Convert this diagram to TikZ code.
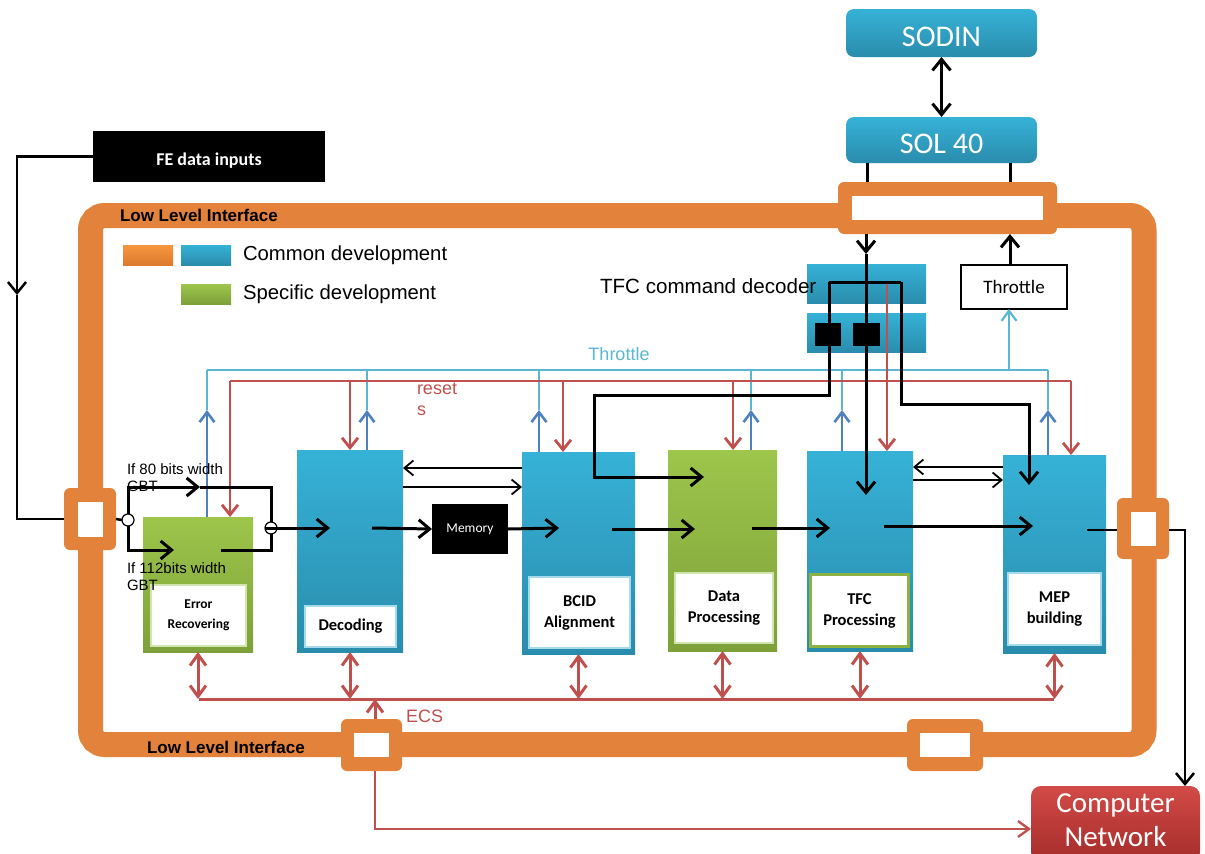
\documentclass[tikz,border=0pt]{standalone}
\usepackage{fontspec}
\setmainfont{Liberation Sans}
\newfontfamily\calib{Carlito}
\usetikzlibrary{arrows.meta}
\definecolor{org}{HTML}{E3823A}
\definecolor{orgT}{HTML}{F7963F}
\definecolor{orgB}{HTML}{DC7A2E}
\definecolor{rd}{HTML}{C0504D}
\definecolor{thl}{HTML}{5BB6D4}
\definecolor{thd}{HTML}{4F81BD}
\definecolor{bluT}{HTML}{36B2D7}
\definecolor{bluB}{HTML}{2A8CAC}
\definecolor{grnT}{HTML}{9DC64B}
\definecolor{grnB}{HTML}{7EA03A}
\definecolor{redT}{HTML}{D24B48}
\definecolor{redB}{HTML}{A52C2A}

\begin{document}
\begin{tikzpicture}[x=1pt,y=-1pt,
  every node/.style={inner sep=0pt,outer sep=0pt},
  bluebox/.style={top color=bluT,bottom color=bluB,draw=none},
  grnbox/.style={top color=grnT,bottom color=grnB,draw=none},
  lab/.style={fill=white,draw=white!55!bluT,line width=1.5pt,align=center,
    font=\calib\bfseries\fontsize{16.5}{21}\selectfont},
  ifc/.style={fill=org,rounded corners=6pt},
  hole/.style={fill=white},
  cbox/.style={top color=bluT,bottom color=bluB,rounded corners=8pt,text=white,
    text height=27pt,text depth=0pt,font=\calib\fontsize{30}{34}\selectfont},
  bl/.style={draw=black,line width=3pt},
  bl2/.style={draw=black,line width=2.5pt},
  bt/.style={draw=black,line width=1.4pt},
  rst/.style={draw=rd,line width=1.3pt},
  thrl/.style={draw=thl,line width=1.3pt},
  thrd/.style={draw=thd,line width=1.8pt},
  ecs/.style={draw=rd,line width=3pt},
  ecs2/.style={draw=rd,line width=2.4pt},
  Tb/.tip={Straight Barb[length=11pt,width=18pt]},
  Tk/.tip={Straight Barb[length=9pt,width=15pt,line width=1.8pt]},
  Tt/.tip={Straight Barb[length=10pt,width=15pt,line width=2.6pt]},
  Tr/.tip={Straight Barb[length=10pt,width=16pt,line width=2.8pt]},
  Tl/.tip={Straight Barb[length=10pt,width=15pt,line width=2.2pt]},
  Te/.tip={Straight Barb[length=11pt,width=16pt]},
]
\useasboundingbox (0,0) rectangle (1205,854);

% ---------- frame of the low level interface ----------
\draw[org,line width=25pt,rounded corners=14pt] (90.5,215.5) rectangle (1144,744.5);
\node[anchor=west,font=\bfseries\fontsize{17}{18}\selectfont] (lliT) at (120,215) {Low Level Interface};
\node[anchor=west,font=\bfseries\fontsize{17}{18}\selectfont] (lliB) at (147,747) {Low Level Interface};

% interface ports on the frame
\node[ifc,minimum width=219,minimum height=52] (ifcT) at (947.5,208) {};
\node[hole,minimum width=191,minimum height=24] (ifcTw) at (ifcT.center) {};
\node[ifc,minimum width=52,minimum height=62] (ifcL) at (90,519) {};
\node[hole,minimum width=25,minimum height=35] (ifcLw) at (ifcL.center) {};
\node[ifc,minimum width=52,minimum height=61] (ifcR) at (1143,528.5) {};
\node[hole,minimum width=25,minimum height=34] (ifcRw) at (ifcR.center) {};
\node[ifc,minimum width=61,minimum height=52] (ifcB) at (371.5,745) {};
\node[hole,minimum width=35,minimum height=24] (ifcBw) at (ifcB.center) {};
\node[ifc,minimum width=76,minimum height=52] (ifcN) at (945,745) {};
\node[hole,minimum width=50,minimum height=24] (ifcNw) at (ifcN.center) {};

% ---------- outside blocks ----------
\node[cbox,minimum width=191,minimum height=48] (sodin) at (941.5,33) {SODIN};
\node[cbox,minimum width=191,minimum height=46] (sol) at (941.5,140) {SOL 40};
\node[fill=black,minimum width=232,minimum height=51,text=white,
  text height=17.5pt,text depth=0pt,
  font=\calib\bfseries\fontsize{18}{20}\selectfont] (fe) at (209,156.5) {FE data inputs};
\node[top color=redT,bottom color=redB,rounded corners=10pt,minimum width=169,
  minimum height=76] (net) at (1115.5,824) {};
\node[text=white,align=center,font=\calib\fontsize{29}{34}\selectfont] (netT)
  at (1115.5,820) {Computer\\Network};

% ---------- legend ----------
\node[top color=orgT,bottom color=orgB,minimum width=50,minimum height=20] (lgO) at (148,255) {};
\node[bluebox,minimum width=50,minimum height=20] (lgB) at (206,255) {};
\node[grnbox,minimum width=50,minimum height=20] (lgG) at (206,294) {};
\node[anchor=west,font=\fontsize{20.3}{22}\selectfont] (lgT1) at (243,255) {Common development};
\node[anchor=west,font=\fontsize{20.3}{22}\selectfont] (lgT2) at (243,294) {Specific development};

% ---------- TFC command decoder and throttle ----------
\node[bluebox,minimum width=119,minimum height=39] (dc1) at (866.5,283.5) {};
\node[bluebox,minimum width=119,minimum height=39] (dc2) at (866.5,332.5) {};
\node[fill=black,minimum width=26,minimum height=23] (sq1) at (828,334) {};
\node[fill=black,minimum width=27,minimum height=23] (sq2) at (866.5,334) {};
\node[anchor=west,font=\fontsize{20.6}{22}\selectfont] (dcT) at (600,286) {TFC command decoder};
\node[draw=black,line width=2.5pt,fill=white,minimum width=106,minimum height=44,
  font=\calib\fontsize{19}{21}\selectfont] (thr) at (1014,287) {Throttle};

% ---------- processing blocks ----------
\node[grnbox,minimum width=110,minimum height=135] (err) at (198,584.5) {};
\node[lab,draw=white!55!grnT,minimum width=95,minimum height=61,
  font=\calib\bfseries\fontsize{13.5}{20}\selectfont] (errL) at (198.5,615.5) {Error\\Recovering};
\node[bluebox,minimum width=106,minimum height=202] (dec) at (350,551) {};
\node[lab,minimum width=91,minimum height=41] (decL) at (350.5,626.5) {Decoding};
\node[fill=black,minimum width=76,minimum height=50,text=white,
  font=\calib\fontsize{13.5}{15}\selectfont] (mem) at (470,529) {Memory};
\node[bluebox,minimum width=113,minimum height=202] (bcid) at (578.5,553) {};
\node[lab,minimum width=101,minimum height=71] (bcidL) at (579.5,612.5) {BCID\\Alignment};
\node[grnbox,minimum width=109,minimum height=201] (dp) at (722.5,550.5) {};
\node[lab,draw=white!55!grnT,minimum width=98,minimum height=70] (dpL) at (724,608) {Data\\Processing};
\node[bluebox,minimum width=106,minimum height=200] (tfc) at (860,551) {};
\node[lab,draw=grnT!90!black,line width=3pt,minimum width=98,minimum height=72] (tfcL) at (859.5,610.5) {TFC\\Processing};
\node[bluebox,minimum width=103,minimum height=198] (mep) at (1054.5,554) {};
\node[lab,minimum width=93,minimum height=72] (mepL) at (1054.5,609) {MEP\\building};

% ---------- throttle bus ----------
\coordinate (tipY) at (0,410);
\coordinate (thA) at (207,370);
\coordinate (thB) at (367,370);
\coordinate (thC) at (539,370);
\coordinate (thD) at (751,370);
\coordinate (thE) at (842,370);
\coordinate (thT) at (1009,370);
\coordinate (thF) at (1048,370);
\draw[thrl] (thA) -- (thF);
\foreach \b/\c in {err/thA,dec/thB,bcid/thC,dp/thD,tfc/thE,mep/thF}{
  \draw[thrl] (\c |- tipY) -- (\c);
  \draw[thrd,-{Tt}] (\b.north -| \c) -- (\c |- tipY);
}
\draw[thrl,-{Tl}] (thT) -- (thT |- thr.south);
\node[text=thl,font=\fontsize{18}{20}\selectfont] (thLab) at (619,354) {Throttle};

% ---------- reset bus ----------
\coordinate (rsA) at (230,381);
\coordinate (rsB) at (350,381);
\coordinate (rsC) at (563,381);
\coordinate (rsD) at (733,381);
\coordinate (rsF) at (1071,381);
\coordinate (rsTop) at (887,283);
\draw[rst] (rsA) -- (rsF);
\foreach \b/\c in {err/rsA,dec/rsB,bcid/rsC,dp/rsD,mep/rsF}{
  \draw[rst,-{Tr}] (\c) -- (\c |- \b.north);
}
\draw[rst,-{Tr}] (rsTop) -- (rsTop |- tfc.north);
\node[anchor=north west,align=left,text=rd,font=\fontsize{18}{21}\selectfont] (rsLab) at (417,383) {reset\\s};

% ---------- SODIN / SOL 40 links ----------
\draw[bl,{Tb}-{Tb}] (sodin.south) -- (sol.north);
\coordinate (sl1) at (867,0);
\coordinate (sl2) at (1010,0);
\draw[bl] (sol.south -| sl1) -- (ifcT.north -| sl1);
\draw[bl] (sol.south -| sl2) -- (ifcT.north -| sl2);

% ---------- TFC command distribution ----------
\coordinate (dA) at (866,254);
\coordinate (tfDn) at (0,495);
\draw[bl,-{Tb}] (ifcT.south -| dA) -- (dA);
\draw[bl,-{Tb}] (dA) -- (dA |- tfDn);
\coordinate (fkL) at (829,282);
\coordinate (fkR) at (901,282);
\draw[bl] (fkL) -- (fkR);
\coordinate (lb1) at (594,395);
\coordinate (lb2) at (704,477);
\draw[bl,-{Tb}] (fkL) |- (lb1) |- (lb2);
\coordinate (rb1) at (1029,404);
\coordinate (rb2) at (1029,485);
\draw[bl,-{Tb}] (fkR) |- (rb1) -- (rb2);
\coordinate (tu) at (1010,0);
\draw[bl,-{Tb}] (thr.north -| tu) -- (ifcT.south -| tu);

% ---------- data path ----------
\coordinate (feC) at (17,295);
\draw[bl2,-{Tb}] (fe.west) -| (feC);
\draw[bl2] (feC) |- (ifcL.west);
\node[circle,draw=black,fill=white,line width=1.2pt,minimum size=12] (c1) at (128,520) {};
\node[circle,draw=black,fill=white,line width=1.2pt,minimum size=12] (c2) at (271,528) {};
\draw[bl2] (ifcL.east) -- (c1.west);
\coordinate (upA) at (200,487);
\coordinate (loA) at (174,550);
\coordinate (loB) at (221,550);
\draw[bl,-{Tb}] (c1.north) |- (upA);
\draw[bl] (upA) -| (c2.north);
\draw[bl,-{Tb}] (c1.south) |- (loA);
\draw[bl] (loB) -| (c2.south);
\coordinate (decIn) at (330,528);
\draw[bl,-{Tb}] (c2.west) -- (decIn);
\node[anchor=north west,align=left,font=\fontsize{15}{17}\selectfont] (t80) at (127,464) {If 80 bits width\\GBT};
\node[anchor=north west,align=left,font=\fontsize{15}{17}\selectfont] (t112) at (127,563) {If 112bits width\\GBT};

\coordinate (decOut) at (372,528);
\draw[bl,-{Tb}] (decOut) -- (mem.west);
\coordinate (bcIn) at (559,528);
\draw[bl,-{Tb}] (mem.east) -- (bcIn);
\coordinate (bcOut) at (612,529);
\coordinate (dpIn) at (695,529);
\draw[bl,-{Tb}] (bcOut) -- (dpIn);
\coordinate (dpOut) at (752,528);
\coordinate (tfIn) at (830,528);
\draw[bl,-{Tb}] (dpOut) -- (tfIn);
\coordinate (tfOut) at (884,526);
\coordinate (mpIn) at (1033,526);
\draw[bl,-{Tb}] (tfOut) -- (mpIn);
\coordinate (mpOut) at (1087,530);
\draw[bl2] (mpOut) -- (mpOut -| ifcR.west);
\coordinate (netC) at (1185,530);
\draw[bl2,-{Tb}] (ifcR.east |- netC) -- (netC) -- (netC |- net.north);

% handshake links between neighbouring blocks
\coordinate (dbU) at (0,468);
\coordinate (dbD) at (0,487);
\draw[bt,-{Tk}] (bcid.west |- dbU) -- (dec.east |- dbU);
\draw[bt,-{Tk}] (dec.east |- dbD) -- (bcid.west |- dbD);
\coordinate (tmU) at (0,467);
\coordinate (tmD) at (0,480);
\draw[bt,-{Tk}] (mep.west |- tmU) -- (tfc.east |- tmU);
\draw[bt,-{Tk}] (tfc.east |- tmD) -- (mep.west |- tmD);

% ---------- ECS bus ----------
\coordinate (ecL) at (199,699);
\coordinate (ecR) at (1054,699);
\coordinate (ecU) at (375,699);
\coordinate (ecD) at (375,829);
\draw[ecs] (ecL) -- (ecR);
\foreach \b in {err,dec,bcid,dp,tfc,mep}{
  \draw[ecs,{Te}-{Te}] (\b.south) -- (\b.south |- ecL);
}
\draw[ecs,-{Te}] (ifcB.north -| ecU) -- (ecU);
\draw[ecs2,-{Te}] (ifcB.south -| ecD) |- (net.west |- ecD);
\node[anchor=west,text=rd,font=\fontsize{18}{20}\selectfont] (ecsLab) at (406,716) {ECS};
\end{tikzpicture}
\end{document}
